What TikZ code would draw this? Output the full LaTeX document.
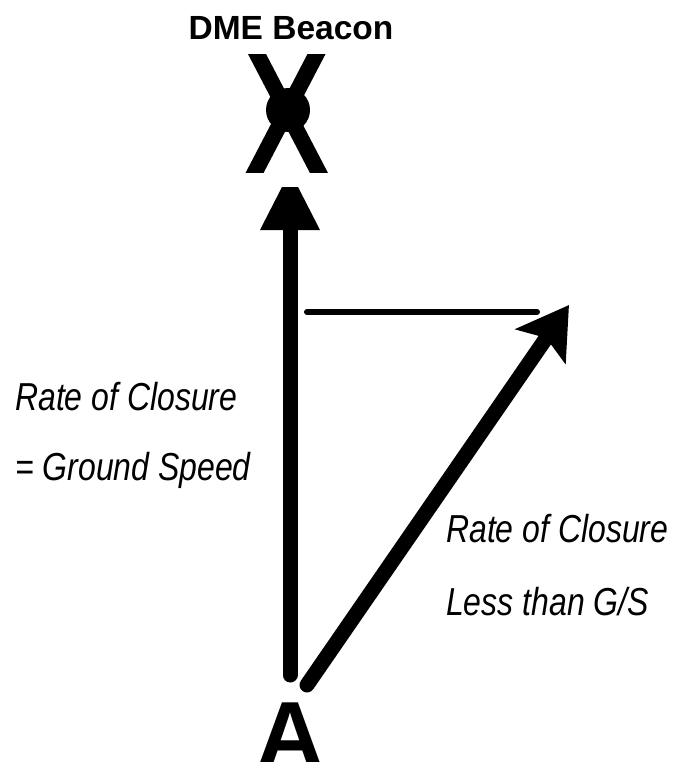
\documentclass[tikz,border=0pt]{standalone}
\usepackage{fontspec}
\usepackage{graphicx}
\setmainfont{Liberation Sans}
\usetikzlibrary{arrows.meta}
\tikzset{
  lbl/.style={anchor=base west, inner sep=0pt, font=\fontsize{39}{39}\selectfont\itshape},
  bigarrow/.style={line width=15pt, line cap=round},
  xline/.style={line width=16pt},
  thinline/.style={line width=6pt, line cap=round}
}
\begin{document}
\begin{tikzpicture}[x=1pt,y=-1pt]
\useasboundingbox (0,0) rectangle (681,762);
% title
\node[anchor=base, inner sep=0pt, font=\fontsize{33.5}{33.5}\selectfont\bfseries] (title) at (291,40) {DME Beacon};
% beacon X mark
\begin{scope}
\clip (225,55) rectangle (350,173);
\draw[xline] (252.3,45) -- (324.2,183);
\draw[xline] (321.2,45) -- (249.3,183);
\end{scope}
\node[circle, fill=black, inner sep=0pt, minimum size=44pt] (beacon) at (288,110) {};
% aircraft A
\node[anchor=base, inner sep=0pt, font=\fontsize{94}{94}\selectfont\bfseries] (A) at (290,767) {A};
% arrow coordinates
\coordinate (vstart) at (290,675);
\coordinate (vbase) at (290,228);
\coordinate (vend) at (290,187);
\coordinate (dstart) at (307,685);
\coordinate (dend) at (569,305);
\coordinate (hstart) at (307,312);
\coordinate (hend) at (537,312);
% vertical arrow: shaft and flat-topped head
\draw[bigarrow] (vstart) -- (vbase);
\fill (vend) ++(-8,0) -- ++(16,0) -- ++(22,43) -- ++(-60,0) -- cycle;
% diagonal arrow
\draw[bigarrow, -{Stealth[length=50pt,width=60pt,inset=10pt]}] (dstart) -- (dend);
% horizontal component
\draw[thinline] (hstart) -- (hend);
% labels
\node[lbl] (l1) at (15,410) {\scalebox{0.82}[1]{Rate of Closure}};
\node[lbl] (l2) at (15,480) {\scalebox{0.82}[1]{= Ground Speed}};
\node[lbl] (r1) at (446,542) {\scalebox{0.82}[1]{Rate of Closure}};
\node[lbl] (r2) at (446,615) {\scalebox{0.82}[1]{Less than G/S}};
\end{tikzpicture}
\end{document}
